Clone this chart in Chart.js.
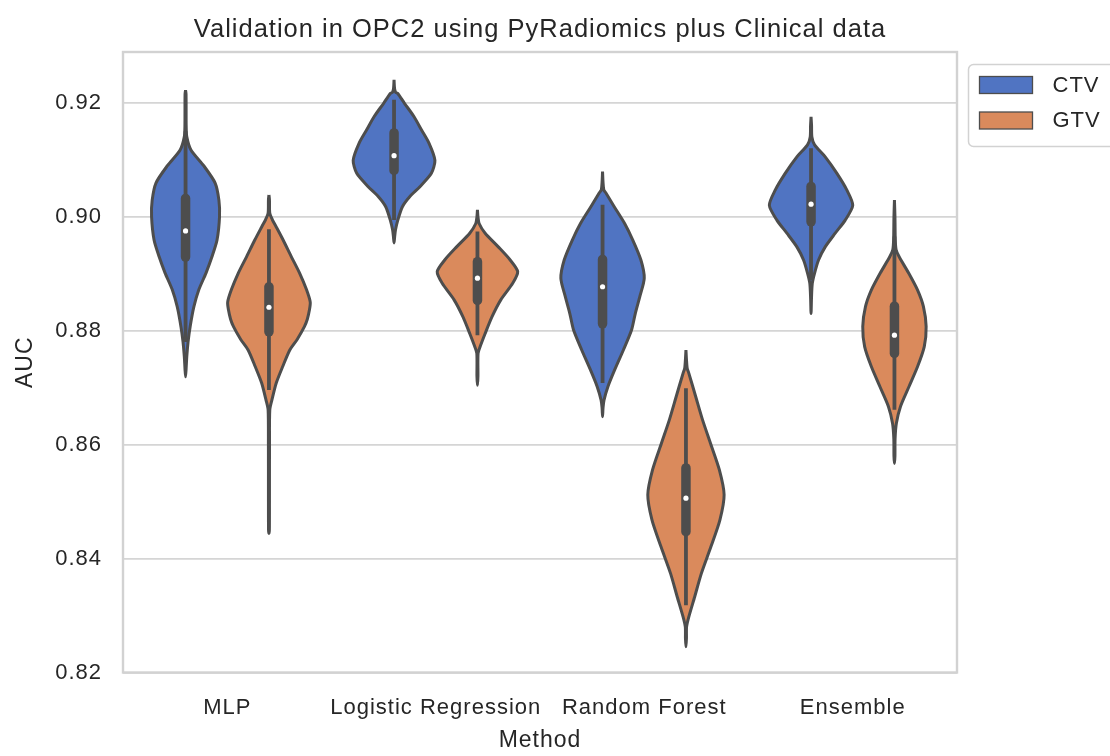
<!DOCTYPE html>
<html lang="en">
<head>
<meta charset="UTF-8">
<title>Validation in OPC2 using PyRadiomics plus Clinical data</title>
<script src="https://cdn.jsdelivr.net/npm/chart.js"></script>
<style>
  html, body { margin: 0; background: #fff; }
  canvas { display: block; }
</style>
</head>
<body>
<canvas id="violinChart" width="1110" height="756"></canvas>
<script>
const methods = ['MLP', 'Logistic Regression', 'Random Forest', 'Ensemble'];
const hues = ['CTV', 'GTV'];
const yTicks = [0.82, 0.84, 0.86, 0.88, 0.90, 0.92];

// violin outlines, top to bottom: [AUC, relative half width]
const ctvDensity = [
  [[0.9222, 0], [0.9215, 0.012], [0.9160, 0.015], [0.9140, 0.03], [0.9117, 0.13], [0.9089, 0.44], [0.9059, 0.71],
   [0.9029, 0.80], [0.9000, 0.815], [0.8959, 0.755], [0.8930, 0.635], [0.8901, 0.49], [0.8872, 0.32], [0.8842, 0.20],
   [0.8807, 0.11], [0.8780, 0.06], [0.8755, 0.03], [0.8735, 0.015], [0.8719, 0]],
  [[0.9240, 0], [0.9225, 0.012], [0.9218, 0.04], [0.92165, 0.085], [0.9199, 0.25], [0.91754, 0.48], [0.9152, 0.66],
   [0.91287, 0.84], [0.9099, 0.98], [0.9076, 0.895], [0.90526, 0.62], [0.9035, 0.375], [0.90175, 0.20], [0.8994, 0.09],
   [0.8977, 0.035], [0.8965, 0.015], [0.8954, 0]],
  [[0.9079, 0], [0.9060, 0.012], [0.9047, 0.03], [0.9041, 0.085], [0.90175, 0.28], [0.8988, 0.53], [0.8959, 0.725],
   [0.8924, 0.92], [0.8892, 1.0], [0.8860, 0.895], [0.8830, 0.785], [0.8801, 0.695], [0.8766, 0.50], [0.8731, 0.29],
   [0.8702, 0.13], [0.8678, 0.035], [0.8665, 0.012], [0.8649, 0]],
  [[0.9175, 0], [0.9160, 0.012], [0.9140, 0.02], [0.9126, 0.085], [0.9105, 0.34], [0.9076, 0.62], [0.90466, 0.86],
   [0.9020, 1.0], [0.8994, 0.82], [0.8971, 0.58], [0.8947, 0.34], [0.8924, 0.18], [0.8901, 0.085], [0.8883, 0.03],
   [0.8860, 0.012], [0.8830, 0]]
];
const gtvDensity = [
  [[0.9038, 0], [0.9030, 0.012], [0.9006, 0.02], [0.8995, 0.08], [0.8982, 0.175], [0.8959, 0.34], [0.8930, 0.535],
   [0.8901, 0.735], [0.8872, 0.90], [0.8850, 0.99], [0.8836, 0.97], [0.8820, 0.92], [0.8807, 0.85], [0.8785, 0.68],
   [0.8766, 0.50], [0.8737, 0.33], [0.8708, 0.175], [0.8678, 0.07], [0.8661, 0.02], [0.8600, 0.013], [0.8500, 0.012],
   [0.8450, 0.01], [0.8444, 0]],
  [[0.9012, 0], [0.9000, 0.012], [0.8988, 0.04], [0.8971, 0.185], [0.8947, 0.50], [0.8924, 0.785], [0.89035, 0.965],
   [0.8883, 0.845], [0.8854, 0.56], [0.88245, 0.35], [0.8795, 0.185], [0.8772, 0.065], [0.8760, 0.015], [0.8720, 0.012],
   [0.8704, 0]],
  [[0.8766, 0], [0.8750, 0.012], [0.8734, 0.03], [0.8725, 0.07], [0.8684, 0.235], [0.8643, 0.40], [0.8602, 0.59],
   [0.8556, 0.80], [0.8512, 0.915], [0.8468, 0.815], [0.8421, 0.60], [0.8374, 0.37], [0.8333, 0.21], [0.8298, 0.07],
   [0.8280, 0.015], [0.8260, 0.012], [0.8245, 0]],
  [[0.9029, 0], [0.9000, 0.012], [0.8959, 0.02], [0.8942, 0.04], [0.8930, 0.11], [0.8901, 0.34], [0.8871, 0.555],
   [0.8842, 0.695], [0.8807, 0.76], [0.8772, 0.715], [0.8737, 0.555], [0.8702, 0.35], [0.8667, 0.145], [0.8637, 0.045],
   [0.8610, 0.015], [0.8580, 0.012], [0.8567, 0]]
];

// inner box: whiskers, quartiles and median per method
const ctvWhiskerLow  = [0.8780, 0.8994, 0.8708, 0.8889];
const ctvQ1          = [0.8929, 0.9081, 0.8812, 0.8991];
const ctvMedian      = [0.8975, 0.9107, 0.8877, 0.9022];
const ctvQ3          = [0.9032, 0.9147, 0.8925, 0.9053];
const ctvWhiskerHigh = [0.9150, 0.9205, 0.9021, 0.9120];

const gtvWhiskerLow  = [0.8696, 0.8792, 0.8318, 0.8661];
const gtvQ1          = [0.8798, 0.8853, 0.8447, 0.8760];
const gtvMedian      = [0.8841, 0.8892, 0.8506, 0.8792];
const gtvQ3          = [0.8877, 0.8921, 0.8559, 0.8843];
const gtvWhiskerHigh = [0.8978, 0.8974, 0.8699, 0.8965];

const fontFamily = "'Liberation Sans', Arial, sans-serif";
const textColor = '#262626';
const gray = '#4d4d4d';
const hueColors = ['#5074c2', '#da8a5c'];
const dodge = [-0.2, 0.2];
const halfWidth = 0.2;

const density = [ctvDensity, gtvDensity];
const boxStats = [
  { lo: ctvWhiskerLow, q1: ctvQ1, med: ctvMedian, q3: ctvQ3, hi: ctvWhiskerHigh },
  { lo: gtvWhiskerLow, q1: gtvQ1, med: gtvMedian, q3: gtvQ3, hi: gtvWhiskerHigh }
];

// closed outline: right side going down, left side coming back up
function outline(profile, center) {
  const right = profile.map(([auc, w]) => ({ x: center + w * halfWidth, y: auc }));
  const left = profile.slice(0, -1).reverse().map(([auc, w]) => ({ x: center - w * halfWidth, y: auc }));
  return right.concat(left);
}

const datasets = [];
hues.forEach((hue, h) => {
  const s = boxStats[h];
  methods.forEach((m, i) => {
    const c = i + dodge[h];
    datasets.push({
      label: hue, data: outline(density[h][i], c), showLine: true, fill: 'shape',
      backgroundColor: hueColors[h], borderColor: gray, borderWidth: 3, borderJoinStyle: 'round',
      tension: 0.25, pointRadius: 0, order: 3
    });
    datasets.push({
      data: [{ x: c, y: s.lo[i] }, { x: c, y: s.hi[i] }], showLine: true,
      borderColor: gray, borderWidth: 3.8, pointRadius: 0, order: 2
    });
    datasets.push({
      data: [{ x: c, y: s.q1[i] }, { x: c, y: s.q3[i] }], showLine: true,
      borderColor: gray, borderWidth: 9.5, borderCapStyle: 'round', pointRadius: 0, order: 1
    });
    datasets.push({
      data: [{ x: c, y: s.med[i] }], pointRadius: 2.6,
      pointBackgroundColor: '#ffffff', pointBorderWidth: 0, order: 0
    });
  });
});

// text in the figure is a little tracked out
const spacing = {
  id: 'spacing',
  beforeUpdate(chart) { chart.ctx.letterSpacing = '1px'; },
  beforeDraw(chart) { chart.ctx.letterSpacing = '1px'; }
};

// all four spines
const frame = {
  id: 'frame',
  beforeDatasetsDraw(chart) {
    const { ctx, chartArea: a } = chart;
    ctx.save();
    ctx.strokeStyle = '#d2d2d2';
    ctx.lineWidth = 2.4;
    ctx.strokeRect(a.left, a.top, a.right - a.left, a.bottom - a.top);
    ctx.restore();
  }
};

// legend outside the axes, upper left of the right margin
const legendBox = {
  id: 'legendBox',
  afterDraw(chart) {
    const { ctx, chartArea: a } = chart;
    const x0 = a.right + 11.5, y0 = a.top + 12.5;
    ctx.save();
    ctx.beginPath();
    ctx.roundRect(x0, y0, 170, 82, 5);
    ctx.fillStyle = '#ffffff';
    ctx.fill();
    ctx.strokeStyle = '#d2d2d2';
    ctx.lineWidth = 1.5;
    ctx.stroke();
    ctx.font = '22px ' + fontFamily;
    ctx.textBaseline = 'middle';
    hues.forEach((hue, h) => {
      const y = y0 + 12 + h * 35.5;
      ctx.fillStyle = hueColors[h];
      ctx.fillRect(x0 + 11, y, 53, 17);
      ctx.strokeStyle = gray;
      ctx.lineWidth = 1.3;
      ctx.strokeRect(x0 + 11, y, 53, 17);
      ctx.fillStyle = textColor;
      ctx.fillText(hue, x0 + 84, y + 9);
    });
    ctx.restore();
  }
};

new Chart(document.getElementById('violinChart'), {
  type: 'scatter',
  data: { datasets: datasets },
  options: {
    responsive: false,
    animation: false,
    events: [],
    layout: { padding: { left: 0, right: 153, top: 0, bottom: 0 } },
    plugins: {
      legend: { display: false },
      tooltip: { enabled: false },
      title: {
        display: true,
        text: 'Validation in OPC2 using PyRadiomics plus Clinical data',
        fullSize: false,
        color: textColor,
        font: { family: fontFamily, size: 25.5, weight: 'normal' },
        padding: { top: 15, bottom: 6.4 }
      }
    },
    scales: {
      x: {
        type: 'linear', min: -0.5, max: 3.5,
        afterBuildTicks: s => { s.ticks = methods.map((_, i) => ({ value: i })); },
        afterFit: s => { s.height = 83.5; },
        grid: { display: false },
        border: { display: false },
        ticks: {
          callback: v => methods[v], color: textColor, autoSkip: false, maxRotation: 0, padding: 14,
          font: { family: fontFamily, size: 22 }
        },
        title: {
          display: true, text: 'Method', color: textColor,
          font: { family: fontFamily, size: 23 }, padding: { top: 0, bottom: 2 }
        }
      },
      y: {
        type: 'linear', min: 0.82, max: 0.9289,
        afterBuildTicks: s => { s.ticks = yTicks.map(v => ({ value: v })); },
        afterFit: s => { s.width = 123; },
        grid: { color: '#d5d5d5', lineWidth: 1.8, drawTicks: false },
        border: { display: false },
        ticks: {
          callback: v => v.toFixed(2), color: textColor, padding: 21,
          font: { family: fontFamily, size: 22 }
        },
        title: {
          display: true, text: 'AUC', color: textColor,
          font: { family: fontFamily, size: 23 }, padding: { top: 12, bottom: 0 }
        }
      }
    }
  },
  plugins: [spacing, frame, legendBox]
});
</script>
</body>
</html>
